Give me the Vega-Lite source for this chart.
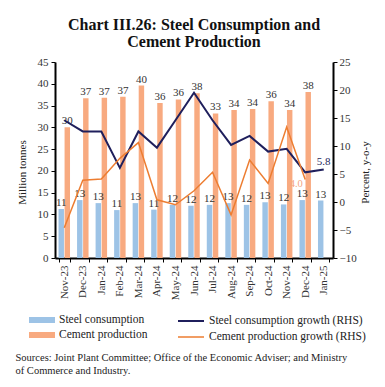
{
  "$schema": "https://vega.github.io/schema/vega-lite/v6.json",
  "width": 278,
  "height": 196,
  "autosize": {"type": "none"},
  "padding": {"left": 55, "top": 62, "right": 52, "bottom": 129},
  "title": {
    "text": ["Chart III.26: Steel Consumption and", "Cement Production"],
    "font": "Liberation Serif",
    "fontSize": 16,
    "fontWeight": "bold",
    "color": "#111",
    "lineHeight": 17,
    "anchor": "middle",
    "offset": 6
  },
  "datasets": {
    "bars": [
      {"month": "Nov-23", "series": "Steel consumption", "value": 11.25},
      {"month": "Dec-23", "series": "Steel consumption", "value": 13.3},
      {"month": "Jan-24", "series": "Steel consumption", "value": 12.6},
      {"month": "Feb-24", "series": "Steel consumption", "value": 11.0},
      {"month": "Mar-24", "series": "Steel consumption", "value": 12.6},
      {"month": "Apr-24", "series": "Steel consumption", "value": 11.1},
      {"month": "May-24", "series": "Steel consumption", "value": 12.2},
      {"month": "Jun-24", "series": "Steel consumption", "value": 12.0},
      {"month": "Jul-24", "series": "Steel consumption", "value": 12.2},
      {"month": "Aug-24", "series": "Steel consumption", "value": 12.6},
      {"month": "Sep-24", "series": "Steel consumption", "value": 12.2},
      {"month": "Oct-24", "series": "Steel consumption", "value": 12.8},
      {"month": "Nov-24", "series": "Steel consumption", "value": 12.3},
      {"month": "Dec-24", "series": "Steel consumption", "value": 13.3},
      {"month": "Jan-25", "series": "Steel consumption", "value": 13.2},
      {"month": "Nov-23", "series": "Cement production", "value": 30.0},
      {"month": "Dec-23", "series": "Cement production", "value": 36.7},
      {"month": "Jan-24", "series": "Cement production", "value": 36.8},
      {"month": "Feb-24", "series": "Cement production", "value": 37.0},
      {"month": "Mar-24", "series": "Cement production", "value": 39.6},
      {"month": "Apr-24", "series": "Cement production", "value": 35.6},
      {"month": "May-24", "series": "Cement production", "value": 36.4},
      {"month": "Jun-24", "series": "Cement production", "value": 37.8},
      {"month": "Jul-24", "series": "Cement production", "value": 33.2},
      {"month": "Aug-24", "series": "Cement production", "value": 34.0},
      {"month": "Sep-24", "series": "Cement production", "value": 34.2},
      {"month": "Oct-24", "series": "Cement production", "value": 36.0},
      {"month": "Nov-24", "series": "Cement production", "value": 34.0},
      {"month": "Dec-24", "series": "Cement production", "value": 38.1}
    ],
    "growth": [
      {"month": "Nov-23", "series": "Steel consumption growth (RHS)", "value": 14.6},
      {"month": "Dec-23", "series": "Steel consumption growth (RHS)", "value": 12.6},
      {"month": "Jan-24", "series": "Steel consumption growth (RHS)", "value": 12.6},
      {"month": "Feb-24", "series": "Steel consumption growth (RHS)", "value": 6.1},
      {"month": "Mar-24", "series": "Steel consumption growth (RHS)", "value": 12.6},
      {"month": "Apr-24", "series": "Steel consumption growth (RHS)", "value": 9.7},
      {"month": "May-24", "series": "Steel consumption growth (RHS)", "value": 14.6},
      {"month": "Jun-24", "series": "Steel consumption growth (RHS)", "value": 19.5},
      {"month": "Jul-24", "series": "Steel consumption growth (RHS)", "value": 14.6},
      {"month": "Aug-24", "series": "Steel consumption growth (RHS)", "value": 10.2},
      {"month": "Sep-24", "series": "Steel consumption growth (RHS)", "value": 11.8},
      {"month": "Oct-24", "series": "Steel consumption growth (RHS)", "value": 9.0},
      {"month": "Nov-24", "series": "Steel consumption growth (RHS)", "value": 9.5},
      {"month": "Dec-24", "series": "Steel consumption growth (RHS)", "value": 5.3},
      {"month": "Jan-25", "series": "Steel consumption growth (RHS)", "value": 5.8},
      {"month": "Nov-23", "series": "Cement production growth (RHS)", "value": -4.6},
      {"month": "Dec-23", "series": "Cement production growth (RHS)", "value": 3.9},
      {"month": "Jan-24", "series": "Cement production growth (RHS)", "value": 4.1},
      {"month": "Feb-24", "series": "Cement production growth (RHS)", "value": 7.8},
      {"month": "Mar-24", "series": "Cement production growth (RHS)", "value": 10.6},
      {"month": "Apr-24", "series": "Cement production growth (RHS)", "value": 0.4},
      {"month": "May-24", "series": "Cement production growth (RHS)", "value": -0.5},
      {"month": "Jun-24", "series": "Cement production growth (RHS)", "value": 2.0},
      {"month": "Jul-24", "series": "Cement production growth (RHS)", "value": 5.3},
      {"month": "Aug-24", "series": "Cement production growth (RHS)", "value": -2.3},
      {"month": "Sep-24", "series": "Cement production growth (RHS)", "value": 7.5},
      {"month": "Oct-24", "series": "Cement production growth (RHS)", "value": 3.3},
      {"month": "Nov-24", "series": "Cement production growth (RHS)", "value": 13.4},
      {"month": "Dec-24", "series": "Cement production growth (RHS)", "value": 4.0}
    ]
  },
  "encoding": {
    "x": {
      "field": "month",
      "type": "nominal",
      "sort": ["Nov-23", "Dec-23", "Jan-24", "Feb-24", "Mar-24", "Apr-24", "May-24", "Jun-24", "Jul-24", "Aug-24", "Sep-24", "Oct-24", "Nov-24", "Dec-24", "Jan-25"],
      "scale": {"paddingInner": 0.38, "paddingOuter": 0.19},
      "axis": {
        "labelAngle": -90,
        "labelPadding": 3,
        "tickBand": "extent",
        "tickSize": 4,
        "title": ["Sources: Joint Plant Committee; Office of the Economic Adviser; and Ministry", "of Commerce and Industry."],
        "titleAnchor": "start",
        "titleAlign": "left",
        "titleBaseline": "alphabetic",
        "titleX": -40,
        "titleY": 102,
        "titleFontSize": 10.5,
        "titleLineHeight": 13
      }
    }
  },
  "layer": [
    {
      "data": {"name": "bars"},
      "encoding": {
        "xOffset": {"field": "series", "type": "nominal", "sort": ["Steel consumption", "Cement production"], "scale": {"domain": ["Steel consumption", "Cement production"], "paddingInner": 0.1}},
        "y": {
          "field": "value",
          "type": "quantitative",
          "scale": {"domain": [0, 45]},
          "axis": {"orient": "left", "values": [0, 5, 10, 15, 20, 25, 30, 35, 40, 45], "title": "Million tonnes", "titleX": -33, "titleY": 110, "titleBaseline": "middle", "tickSize": 4, "labelPadding": 3}
        }
      },
      "layer": [
        {
          "mark": {"type": "bar"},
          "encoding": {
            "fill": {
              "field": "series",
              "type": "nominal",
              "scale": {"domain": ["Steel consumption", "Cement production"], "range": ["#9DC3E6", "#F8AA80"]},
              "legend": {"orient": "none", "legendX": -19.5, "legendY": 251.5, "title": null, "direction": "vertical", "symbolType": "M-2,-0.46H2V0.46H-2Z", "symbolSize": 169, "symbolStrokeWidth": 0, "labelFontSize": 11.5, "labelFont": "Liberation Serif", "labelColor": "#222", "rowPadding": 3, "padding": 0, "labelOffset": 10.5}
            }
          }
        },
        {
          "mark": {"type": "text", "dy": -6, "fontSize": 11, "font": "Liberation Serif", "color": "#333"},
          "encoding": {"text": {"field": "value", "type": "quantitative", "format": ".0f"}}
        }
      ]
    },
    {
      "data": {"name": "growth"},
      "encoding": {
        "y": {
          "field": "value",
          "type": "quantitative",
          "scale": {"domain": [-10, 25]},
          "axis": {"orient": "right", "values": [-10, -5, 0, 5, 10, 15, 20, 25], "title": "Percent, y-o-y", "titleAngle": 270, "titleX": 32, "titleY": 110, "titleBaseline": "middle", "tickSize": 4, "labelPadding": 2}
        }
      },
      "layer": [
        {
          "mark": {"type": "line"},
          "encoding": {
            "stroke": {
              "field": "series",
              "type": "nominal",
              "scale": {"domain": ["Steel consumption growth (RHS)", "Cement production growth (RHS)"], "range": ["#1F1F5C", "#ED7D31"]},
              "legend": {"orient": "none", "legendX": 128.5, "legendY": 251.5, "title": null, "direction": "vertical", "symbolType": "M-2,0H2", "symbolSize": 169, "symbolStrokeWidth": 2, "labelFontSize": 11.5, "labelFont": "Liberation Serif", "labelColor": "#222", "rowPadding": 3, "padding": 0, "labelOffset": 10.5}
            },
            "strokeWidth": {"field": "series", "type": "nominal", "scale": {"domain": ["Steel consumption growth (RHS)", "Cement production growth (RHS)"], "range": [2, 1.5]}, "legend": null}
          }
        },
        {
          "transform": [{"filter": "datum.month == 'Jan-25'"}],
          "mark": {"type": "text", "dy": -8, "fontSize": 11, "font": "Liberation Serif", "color": "#1F1F5C"},
          "encoding": {"text": {"field": "value", "type": "quantitative", "format": ".1f"}}
        },
        {
          "transform": [{"filter": "datum.month == 'Dec-24' && datum.series == 'Cement production growth (RHS)'"}],
          "mark": {"type": "text", "dx": -9, "dy": 4, "fontSize": 10.5, "font": "Liberation Serif", "color": "#F4A582"},
          "encoding": {"text": {"field": "value", "type": "quantitative", "format": ".1f"}}
        }
      ]
    }
  ],
  "resolve": {"scale": {"y": "independent"}},
  "config": {
    "font": "Liberation Serif",
    "view": {"stroke": null},
    "axis": {
      "grid": false,
      "labelFont": "Liberation Serif",
      "labelFontSize": 11,
      "labelColor": "#333",
      "titleFont": "Liberation Serif",
      "titleFontSize": 11,
      "titleFontWeight": "normal",
      "titleColor": "#222",
      "domainColor": "#000",
      "domainWidth": 2,
      "tickColor": "#000"
    }
  }
}
